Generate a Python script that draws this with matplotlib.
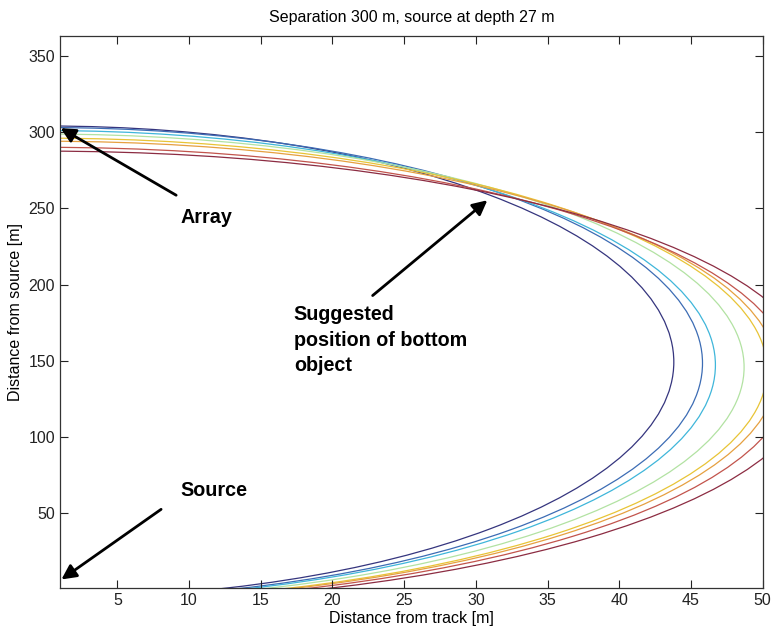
import matplotlib
matplotlib.use("Agg")
import matplotlib.pyplot as plt
from matplotlib.patches import Ellipse

plt.rcParams['font.family'] = ['Liberation Sans', 'DejaVu Sans']

# Curves: each is a half ellipse about the track (x = 0)
# centre height [m], half width along track distance [m], half height [m]
curve_center_y = [149.2, 148.4, 147.2, 145.8, 144.0, 142.9, 140.6, 138.9]
curve_half_x = [43.8, 45.8, 46.7, 48.7, 50.3, 51.0, 52.0, 53.5]
curve_half_y = [154.8, 154.6, 153.8, 152.9, 152.0, 151.1, 149.4, 148.6]
curve_colors = ['#35357e', '#3c6cb4', '#3fb6da', '#b2e2a2',
                '#e8c436', '#e6a040', '#c2544c', '#8c2c42']

x_ticks = [5, 10, 15, 20, 25, 30, 35, 40, 45, 50]
y_ticks = [50, 100, 150, 200, 250, 300, 350]
x_limits = (1, 50)
y_limits = (1, 363)

title_text = 'Separation 300 m, source at depth 27 m'
x_label = 'Distance from track [m]'
y_label = 'Distance from source [m]'

# annotations: text, text position, arrow tail, arrow tip
ann_texts = ['Array', 'Suggested\nposition of bottom\nobject', 'Source']
ann_text_pos = [(9.4, 244), (17.3, 163.5), (9.4, 65)]
ann_tails = [(9.1, 258.6), (22.8, 192.8), (8.05, 52.6)]
ann_tips = [(1.05, 302.6), (30.8, 255.3), (1.1, 6.6)]

fig = plt.figure(figsize=(7.72, 6.32), dpi=100)
ax = fig.add_axes([0.0777, 0.0696, 0.9103, 0.8734])

for cy, hx, hy, col in zip(curve_center_y, curve_half_x, curve_half_y, curve_colors):
    e = Ellipse((0, cy), 2 * hx, 2 * hy, fill=False, edgecolor=col, linewidth=0.9)
    ax.add_patch(e)

ax.set_xlim(*x_limits)
ax.set_ylim(*y_limits)
ax.set_xticks(x_ticks)
ax.set_yticks(y_ticks)
ax.tick_params(direction='in', length=6, width=0.8, top=True, right=True,
               labelsize=11.5, colors='#222222')
for s in ax.spines.values():
    s.set_linewidth(0.9)
    s.set_color('#333333')

ax.set_title(title_text, fontsize=11.5, pad=10)
ax.set_xlabel(x_label, fontsize=11.5, labelpad=2)
ax.set_ylabel(y_label, fontsize=11.5, labelpad=4)

for txt, tp, tail, tip in zip(ann_texts, ann_text_pos, ann_tails, ann_tips):
    ax.text(tp[0], tp[1], txt, fontsize=14.2, fontweight='bold',
            ha='left', va='center', linespacing=1.42)
    ax.annotate('', xy=tip, xytext=tail,
                arrowprops=dict(arrowstyle='-|>', color='black', lw=2,
                                mutation_scale=22, shrinkA=0, shrinkB=0))

fig.savefig('out.png', dpi=100, facecolor='white')
